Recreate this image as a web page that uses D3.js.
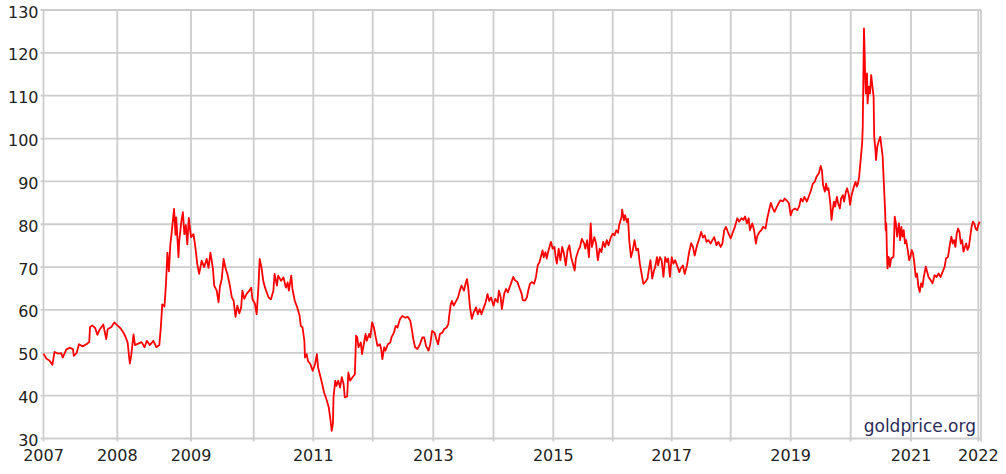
<!DOCTYPE html>
<html><head><meta charset="utf-8">
<script src="https://cdn.jsdelivr.net/npm/d3@7"></script>
<style>html,body{margin:0;padding:0;background:#fff;} svg{display:block;}</style>
</head><body><svg id="chart" width="1006" height="474"></svg>
<script>
// ---- DATA ----
const years = [
2007.00,2007.04,2007.08,2007.12,2007.15,2007.20,2007.24,2007.26,2007.31,2007.36,2007.40,2007.41,2007.45,2007.48,2007.53,2007.58,2007.62,2007.63,2007.66,2007.70,2007.73,2007.76,2007.81,2007.85,2007.87,2007.92,2007.96,
2008.00,2008.04,2008.08,2008.11,2008.14,2008.17,2008.19,2008.22,2008.24,2008.29,2008.33,2008.37,2008.40,2008.44,2008.49,2008.53,2008.57,2008.59,2008.61,2008.64,2008.66,2008.68,2008.70,2008.72,2008.74,2008.77,2008.79,2008.80,2008.83,2008.84,2008.87,2008.89,2008.91,2008.93,2008.95,2008.97,
2009.00,2009.04,2009.07,2009.10,2009.13,2009.17,2009.21,2009.25,2009.28,2009.31,2009.35,2009.37,2009.41,2009.44,2009.46,2009.49,2009.52,2009.55,2009.58,2009.62,2009.65,2009.68,2009.71,2009.74,2009.77,2009.80,2009.82,2009.85,2009.89,2009.93,2009.96,2009.98,
2010.02,2010.05,2010.08,2010.10,2010.13,2010.16,2010.19,2010.25,2010.29,2010.33,2010.35,2010.39,2010.41,2010.46,2010.50,2010.54,2010.57,2010.59,2010.63,2010.65,2010.69,2010.73,2010.77,2010.79,2010.82,2010.85,2010.86,2010.89,2010.91,2010.95,2010.99,
2011.03,2011.06,2011.08,2011.11,2011.15,2011.18,2011.22,2011.26,2011.29,2011.31,2011.33,2011.34,2011.37,2011.39,2011.42,2011.45,2011.48,2011.51,2011.53,2011.57,2011.59,2011.62,2011.66,2011.70,2011.72,2011.74,2011.76,2011.80,2011.82,2011.85,2011.88,2011.90,2011.94,2011.96,2011.99,
2012.02,2012.05,2012.08,2012.12,2012.14,2012.16,2012.19,2012.21,2012.25,2012.29,2012.31,2012.35,2012.38,2012.41,2012.45,2012.49,2012.54,2012.58,2012.62,2012.65,2012.67,2012.70,2012.74,2012.78,2012.82,2012.85,2012.88,2012.92,2012.95,2012.98,
2013.02,2013.05,2013.08,2013.11,2013.15,2013.18,2013.22,2013.25,2013.26,2013.29,2013.31,2013.34,2013.38,2013.41,2013.44,2013.47,2013.51,2013.54,2013.56,2013.58,2013.61,2013.64,2013.67,2013.71,2013.74,2013.77,2013.80,2013.84,2013.87,2013.90,2013.93,2013.96,
2014.00,2014.03,2014.07,2014.09,2014.12,2014.14,2014.18,2014.21,2014.24,2014.27,2014.30,2014.33,2014.36,2014.40,2014.43,2014.47,2014.49,2014.53,2014.56,2014.58,2014.61,2014.64,2014.68,2014.71,2014.74,2014.77,2014.79,2014.82,2014.84,2014.87,2014.89,2014.92,2014.96,2014.99,
2015.02,2015.04,2015.06,2015.09,2015.12,2015.15,2015.18,2015.21,2015.24,2015.27,2015.30,2015.33,2015.36,2015.38,2015.42,2015.45,2015.48,2015.52,2015.54,2015.57,2015.60,2015.63,2015.65,2015.69,2015.72,2015.75,2015.78,2015.81,2015.84,2015.87,2015.90,2015.93,2015.97,
2016.00,2016.03,2016.06,2016.09,2016.11,2016.15,2016.16,2016.19,2016.21,2016.24,2016.26,2016.28,2016.31,2016.34,2016.37,2016.40,2016.43,2016.46,2016.49,2016.52,2016.55,2016.59,2016.61,2016.64,2016.67,2016.70,2016.72,2016.75,2016.77,2016.80,2016.83,2016.86,2016.89,2016.92,2016.94,2016.97,
2017.00,2017.03,2017.06,2017.10,2017.13,2017.15,2017.19,2017.22,2017.26,2017.29,2017.33,2017.36,2017.39,2017.43,2017.46,2017.50,2017.53,2017.56,2017.59,2017.62,2017.66,2017.69,2017.72,2017.76,2017.79,2017.83,2017.86,2017.89,2017.92,2017.96,
2018.00,2018.03,2018.07,2018.11,2018.14,2018.18,2018.21,2018.24,2018.27,2018.30,2018.32,2018.36,2018.39,2018.42,2018.44,2018.48,2018.51,2018.54,2018.58,2018.61,2018.64,2018.67,2018.70,2018.73,2018.77,2018.80,2018.83,2018.87,2018.90,2018.93,2018.97,
2019.00,2019.03,2019.07,2019.11,2019.14,2019.17,2019.20,2019.23,2019.27,2019.30,2019.33,2019.37,2019.40,2019.43,2019.47,2019.50,2019.52,2019.54,2019.57,2019.59,2019.61,2019.63,2019.66,2019.68,2019.70,2019.72,2019.74,2019.77,2019.79,2019.82,2019.84,2019.87,2019.89,2019.92,2019.94,2019.97,2019.99,
2020.01,2020.03,2020.06,2020.08,2020.10,2020.12,2020.14,2020.17,2020.19,2020.20,2020.21,2020.22,2020.23,2020.24,2020.25,2020.27,2020.28,2020.30,2020.32,2020.34,2020.36,2020.38,2020.39,2020.41,2020.42,2020.44,2020.47,2020.49,2020.51,2020.53,2020.54,2020.56,2020.57,2020.58,2020.59,2020.60,2020.61,2020.63,2020.65,2020.67,2020.71,2020.73,2020.75,2020.77,2020.80,2020.82,2020.84,2020.86,2020.88,2020.90,2020.92,2020.95,2020.97,2020.99,
2021.01,2021.03,2021.05,2021.07,2021.09,2021.11,2021.13,2021.15,2021.17,2021.19,2021.22,2021.24,2021.26,2021.29,2021.32,2021.35,2021.38,2021.41,2021.44,2021.47,2021.50,2021.52,2021.55,2021.58,2021.60,2021.62,2021.64,2021.66,2021.68,2021.70,2021.72,2021.74,2021.76,2021.78,2021.80,2021.82,2021.84,2021.86,2021.88,2021.90,2021.92,2021.94,2021.96,2021.98,
2022.00,2022.02
];
const ratio = [
49.8,48.6,48.2,47.2,50.2,49.8,49.9,48.9,50.8,51.2,50.8,49.3,50.0,52.0,51.5,52.0,52.5,56.0,56.4,55.8,54.2,55.4,56.6,53.2,55.5,56.0,57.1,
56.4,55.8,54.8,53.8,52.4,47.5,49.5,54.3,51.8,52.2,52.5,51.3,52.8,51.8,52.8,51.3,51.8,55.8,61.3,60.8,66.0,73.4,69.0,75.3,78.4,83.6,77.5,81.6,72.3,76.0,80.8,82.8,77.7,79.8,75.3,81.5,
77.0,77.7,74.6,70.7,68.4,71.5,70.0,71.9,69.8,73.4,69.6,65.7,64.5,61.8,65.3,67.2,71.9,69.8,68.4,65.7,63.0,62.1,58.4,61.0,59.2,60.6,64.5,62.6,63.8,64.5,65.2,62.5,
61.5,59.0,65.5,71.9,70.0,66.8,65.2,62.9,62.5,64.5,68.4,65.7,68.0,66.8,67.6,65.2,66.4,64.5,68.0,64.9,62.1,60.6,58.7,56.3,55.9,52.8,48.9,49.7,48.1,47.4,45.8,
47.4,49.7,46.6,45.0,42.7,40.8,39.2,37.3,34.2,31.8,33.4,39.6,43.5,42.3,43.5,41.9,44.3,42.7,39.6,39.8,45.4,43.5,44.3,45.0,54.0,53.6,51.3,52.4,49.7,52.0,54.4,52.8,54.4,53.6,57.1,
55.9,53.6,51.6,52.0,50.9,48.5,51.3,50.5,52.0,52.4,53.6,54.7,56.3,55.9,57.9,58.6,58.2,58.4,57.5,55.1,53.2,51.3,50.9,52.0,53.6,53.6,51.6,50.5,52.0,55.1,
54.7,53.2,52.0,54.4,54.7,55.5,55.9,56.7,58.2,61.3,62.1,61.0,62.1,62.9,64.5,65.7,64.5,66.4,67.2,65.2,60.6,57.9,59.4,60.6,59.0,60.2,59.0,60.6,61.8,63.7,62.1,62.9,
61.0,62.6,61.8,64.5,63.0,60.2,63.8,64.9,64.1,65.3,66.5,67.7,66.9,66.5,65.3,63.8,62.3,62.2,63.0,64.5,66.1,66.5,66.1,67.7,70.4,71.2,72.3,73.9,72.3,73.5,72.0,73.9,75.9,74.3,
74.7,72.3,70.8,74.3,71.6,74.7,73.1,70.4,73.9,75.1,72.3,70.8,69.2,72.0,73.9,74.7,76.6,75.5,74.3,76.3,72.3,80.2,74.7,77.0,75.5,71.6,74.3,73.5,75.9,74.7,76.3,75.1,77.0,
77.8,77.4,78.6,78.0,79.8,81.7,83.4,80.9,82.1,80.5,81.3,76.3,72.3,73.9,76.3,73.9,74.3,70.8,68.4,66.1,66.5,67.3,69.2,71.6,67.3,69.2,70.0,72.3,70.4,72.3,71.6,67.7,72.3,71.2,72.0,67.7,
72.3,70.8,71.6,70.0,68.8,69.6,70.4,68.4,70.4,73.1,75.6,74.7,72.7,75.1,76.3,78.2,76.9,77.4,75.9,76.3,75.5,76.3,77.0,75.1,75.9,74.7,75.5,78.6,79.4,77.9,
76.7,77.9,79.4,81.4,80.6,81.4,81.0,81.8,80.2,81.4,78.6,80.2,78.6,75.5,77.1,78.2,78.6,79.4,79.0,81.4,83.3,85.0,83.7,82.9,84.1,84.9,85.6,85.3,86.0,85.6,84.9,
82.1,83.3,83.7,83.3,84.1,86.0,85.3,86.4,85.3,86.4,87.6,89.5,89.9,91.1,91.9,93.6,92.6,89.1,87.6,89.5,88.0,88.4,84.9,81.0,83.3,85.3,84.1,86.4,84.9,83.7,86.0,86.8,85.3,87.6,88.4,86.8,84.5,
86.4,87.6,89.1,89.9,88.8,89.5,91.1,95.8,98.9,102.8,114.4,125.7,120.7,114.4,110.5,115.2,108.2,112.1,110.5,114.8,112.1,109.8,100.4,97.3,95.0,98.1,99.6,100.4,98.1,95.8,92.6,86.4,83.3,78.6,80.2,74.0,69.7,72.4,70.1,72.0,72.4,81.8,80.2,77.1,80.2,76.3,79.4,77.1,78.6,75.5,76.3,73.6,71.6,72.4,
74.0,73.2,70.9,67.7,68.5,65.4,64.2,66.2,65.4,67.7,70.1,68.9,67.7,67.0,66.2,68.1,67.7,68.5,67.7,68.9,70.1,72.0,72.4,75.5,77.1,75.5,76.3,74.7,77.9,79.0,78.2,75.5,76.3,73.6,74.7,75.5,74.0,74.7,77.1,79.4,80.6,80.2,79.0,78.6,
79.8,80.6
];
const yTicks = [30,40,50,60,70,80,90,100,110,120,130];
const gridYears = [2007,2008,2009,2010,2011,2012,2013,2014,2015,2016,2017,2018,2019,2020,2021,2022];
const labelYears = [2007,2008,2009,2011,2013,2015,2017,2019,2021,2022];
const watermark = "goldprice.org";

(function () {
  // ---- LAYOUT ----
  const pL = 43.5, pR = 981, pT = 10, pB = 438.5;
  // the source axis is not uniform in time: year boundaries sit at these positions
  const xBreakYears = gridYears.concat([2022.04]);
  const xBreakPos = [43.5,117.3,191,253.7,313.3,372.7,433.3,493.5,553.3,612.7,671.7,730.7,790.7,850.7,911,978.3,981];

  const x = d3.scaleLinear().domain(xBreakYears).range(xBreakPos);
  const y = d3.scaleLinear().domain([30,130]).range([pB, pT]);

  const svg = d3.select("#chart");
  svg.append("rect").attr("width",1006).attr("height",474).attr("fill","#fff");

  const gridColor = "#cdcdcd";
  svg.append("g").selectAll("line").data(yTicks).join("line")
    .attr("x1", pL - 3).attr("x2", pR)
    .attr("y1", d => y(d)).attr("y2", d => y(d))
    .attr("stroke", gridColor).attr("stroke-width", 1.8);
  svg.append("g").selectAll("line").data(gridYears).join("line")
    .attr("x1", d => x(d)).attr("x2", d => x(d))
    .attr("y1", pT).attr("y2", pB + 3)
    .attr("stroke", gridColor).attr("stroke-width", 1.8);
  const xEnd = x(xBreakYears[xBreakYears.length-1]);
  svg.append("line").attr("x1", xEnd).attr("x2", xEnd)
    .attr("y1", pT).attr("y2", pB + 3).attr("stroke", gridColor).attr("stroke-width", 1.8);

  const font = "'DejaVu Sans', Verdana, sans-serif";
  svg.append("g").selectAll("text").data(yTicks).join("text")
    .attr("x", pL - 5).attr("y", d => y(d) + 7.5)
    .attr("text-anchor", "end").attr("font-family", font).attr("font-size", 16).attr("fill", "#222")
    .text(d => d);
  svg.append("g").selectAll("text").data(labelYears).join("text")
    .attr("x", d => x(d)).attr("y", 460.5)
    .attr("text-anchor", "middle").attr("font-family", font).attr("font-size", 16).attr("fill", "#222")
    .text(d => d);

  const n = Math.min(years.length, ratio.length);
  const line = d3.line().x((d,i) => x(years[i])).y(d => y(d));
  svg.append("path").datum(ratio.slice(0, n)).attr("d", line)
    .attr("fill", "none").attr("stroke", "#ff0000").attr("stroke-width", 1.8)
    .attr("stroke-linejoin", "round");

  svg.append("text").attr("x", 976).attr("y", 432).attr("text-anchor", "end")
    .attr("font-family", font).attr("font-size", 17).attr("fill", "#2b2b58")
    .text(watermark);
})();
</script></body></html>
